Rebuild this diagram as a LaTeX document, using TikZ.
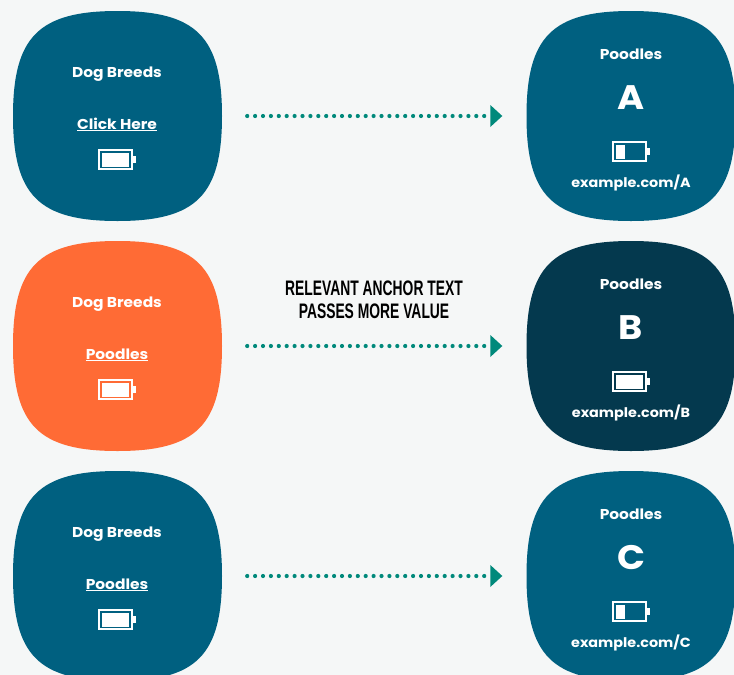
\documentclass[tikz,border=0pt]{standalone}
\usepackage{fontspec}
\setmainfont[FakeStretch=1.08]{Poppins}
\newfontfamily\headfont[FakeStretch=0.66]{Liberation Sans}
\usetikzlibrary{arrows.meta}
\definecolor{bgc}{HTML}{F5F7F7}
\definecolor{bluec}{HTML}{006080}
\definecolor{orangec}{HTML}{FF6B35}
\definecolor{darkc}{HTML}{04394E}
\definecolor{tealc}{HTML}{00897B}
\tikzset{x=1pt,y=-1pt,
  holder/.style={minimum width=209pt,minimum height=210pt,inner sep=0pt},
  label/.style={text=white,font=\bfseries\fontsize{14.3}{16}\selectfont,inner sep=0pt,anchor=base},
  urllabel/.style={label,font=\bfseries\fontsize{13.3}{16}\selectfont},
  big/.style={text=white,font=\bfseries\fontsize{34}{36}\selectfont,inner sep=0pt,anchor=base},
  head/.style={text=black,font=\headfont\bfseries\fontsize{21}{23.5}\selectfont,align=center,inner sep=0pt},
  link/.style={draw=tealc,line width=4.2pt,line cap=round,dash pattern=on 0pt off 7.9pt,
     shorten <=25pt,shorten >=24pt,-{Triangle[length=12pt,width=22pt,line width=0pt,round=false]}},
}
\newcommand{\blobshape}[4]{% name, cx, cy, colour
  \fill[#4] (#2+104.5,#3) .. controls (#2+104.5,#3-79) and (#2+79,#3-105) .. (#2,#3-105)
    .. controls (#2-79,#3-105) and (#2-104.5,#3-79) .. (#2-104.5,#3)
    .. controls (#2-104.5,#3+79) and (#2-79,#3+105) .. (#2,#3+105)
    .. controls (#2+79,#3+105) and (#2+104.5,#3+79) .. (#2+104.5,#3) -- cycle;
  \node[holder] (#1) at (#2,#3) {};
}
\newcommand{\battery}[3]{% left, top, fill width
  \draw[white,line width=2pt] (#1+1,#2+1) rectangle (#1+34,#2+20);
  \fill[white] (#1+35,#2+7) rectangle (#1+38,#2+14);
  \fill[white] (#1+3.5,#2+3.5) rectangle (#1+3.5+#3,#2+17.5);
}
\begin{document}
\begin{tikzpicture}
\useasboundingbox (0,0) rectangle (734,675);
\fill[bgc] (0,0) rectangle (734,675);
\blobshape{s1}{117.5}{116}{bluec}
\blobshape{s2}{117.5}{346}{orangec}
\blobshape{s3}{117.5}{576}{bluec}
\blobshape{t1}{631}{116}{bluec}
\blobshape{t2}{631}{346}{darkc}
\blobshape{t3}{631}{576}{bluec}

\node[label] (s1a) at (117,77) {Dog Breeds};
\node[label] (s1b) at (117,129) {\underline{Click Here}};
\battery{98}{149}{27}
\node[label] (s2a) at (117,307) {Dog Breeds};
\node[label] (s2b) at (117,359) {\underline{Poodles}};
\battery{98}{379}{27}
\node[label] (s3a) at (117,537) {Dog Breeds};
\node[label] (s3b) at (117,589) {\underline{Poodles}};
\battery{98}{609}{27}

\node[label] (t1a) at (631,59) {Poodles};
\node[big] (t1b) at (631,109) {A};
\battery{612}{141}{9}
\node[urllabel] (t1c) at (631,187) {example.com/A};
\node[label] (t2a) at (631,289) {Poodles};
\node[big] (t2b) at (631,339) {B};
\battery{612}{371}{27}
\node[urllabel] (t2c) at (631,417) {example.com/B};
\node[label] (t3a) at (631,519) {Poodles};
\node[big] (t3b) at (631,569) {C};
\battery{612}{601}{9}
\node[urllabel] (t3c) at (631,647) {example.com/C};

\node[head] (cap) at (374,300) {RELEVANT ANCHOR TEXT\\PASSES MORE VALUE};

\path[link] (s1) -- (t1);
\path[link] (s2) -- (t2);
\path[link] (s3) -- (t3);
\end{tikzpicture}
\end{document}
